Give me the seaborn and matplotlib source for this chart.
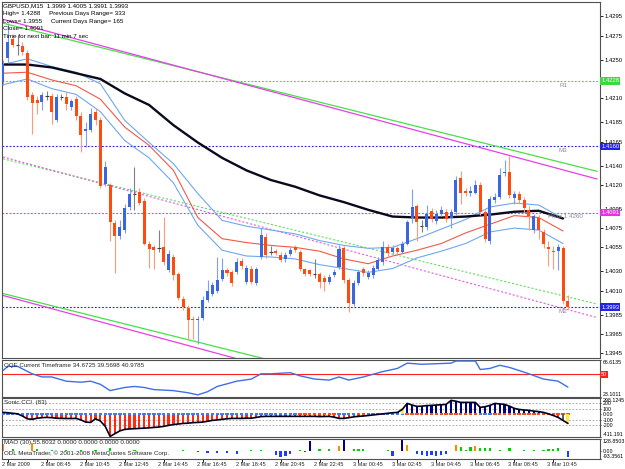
import matplotlib
matplotlib.use("Agg")
import matplotlib.pyplot as plt
import seaborn as sns
from matplotlib.transforms import blended_transform_factory as blend

sns.set_theme(style="white")
plt.rcParams['font.family'] = ['Liberation Sans', 'DejaVu Sans']

# ---------------- data ----------------
header_lines = ["GBPUSD,M15  1.3999 1.4005 1.3991 1.3993",
                "High= 1.4288     Previous Days Range= 333",
                "Lows= 1.3955     Current Days Range= 165",
                "Close= 1.4091",
                "Time for next bar: 11 min 7 sec"]

opens = [1.4227,1.4252,1.4272,1.4265,1.4264,1.4257,1.4213,1.4208,1.4206,1.4212,
         1.4212,1.4187,1.4211,1.4211,1.4201,1.4209,1.4191,1.4176,1.4177,1.4196,
         1.4187,1.4121,1.4120,1.4080,1.4067,1.4073,1.4097,1.4110,1.4113,1.4103,
         1.4058,1.4055,1.4054,1.4055,1.4031,1.4045,1.4027,1.4001,1.3992,1.3981,
         1.3979,1.3982,1.4000,1.4007,1.4010,1.4022,1.4031,1.4029,1.4029,1.4041,
         1.4019,1.4033,1.4018,1.4045,1.4066,1.4050,1.4051,1.4047,1.4043,1.4048,
         1.4055,1.4050,1.4032,1.4031,1.4027,1.4027,1.4023,1.4019,1.4026,1.4035,
         1.4054,1.4021,1.3996,1.4018,1.4032,1.4024,1.4026,1.4033,1.4040,1.4055,
         1.4050,1.4054,1.4050,1.4059,1.4085,1.4098,1.4077,1.4076,1.4093,1.4082,
         1.4090,1.4092,1.4086,1.4092,1.4127,1.4114,1.4111,1.4112,1.4120,1.4092,
         1.4062,1.4104,1.4107,1.4132,1.4133,1.4106,1.4110,1.4104,1.4094,1.4073,
         1.4086,1.4071,1.4055,1.4051,1.4051,1.4054,1.3999]
highs = [1.4250,1.4288,1.4277,1.4276,1.4268,1.4260,1.4216,1.4212,1.4216,1.4218,
         1.4215,1.4214,1.4214,1.4216,1.4209,1.4212,1.4196,1.4185,1.4200,1.4200,
         1.4190,1.4145,1.4122,1.4083,1.4083,1.4100,1.4117,1.4139,1.4117,1.4106,
         1.4062,1.4057,1.4073,1.4087,1.4052,1.4048,1.4029,1.4004,1.3995,1.3984,
         1.3984,1.4004,1.4021,1.4019,1.4045,1.4044,1.4034,1.4031,1.4044,1.4044,
         1.4037,1.4036,1.4035,1.4075,1.4070,1.4056,1.4053,1.4050,1.4050,1.4055,
         1.4057,1.4052,1.4034,1.4033,1.4043,1.4029,1.4026,1.4027,1.4033,1.4057,
         1.4056,1.4023,1.4021,1.4031,1.4035,1.4031,1.4037,1.4045,1.4062,1.4058,
         1.4057,1.4056,1.4062,1.4083,1.4116,1.4100,1.4083,1.4099,1.4096,1.4094,
         1.4098,1.4095,1.4095,1.4129,1.4134,1.4117,1.4119,1.4125,1.4123,1.4094,
         1.4108,1.4111,1.4137,1.4146,1.4150,1.4114,1.4114,1.4107,1.4098,1.4090,
         1.4089,1.4074,1.4062,1.4056,1.4058,1.4056,1.4005]
lows = [1.4224,1.4247,1.4263,1.4255,1.4255,1.4208,1.4173,1.4194,1.4198,1.4208,
        1.4183,1.4185,1.4208,1.4198,1.4198,1.4187,1.4154,1.4159,1.4175,1.4182,
        1.4117,1.4119,1.4062,1.4028,1.4064,1.4070,1.4094,1.4094,1.4099,1.4057,
        1.4034,1.4033,1.4050,1.4037,1.4029,1.4021,1.4000,1.3990,1.3960,1.3960,
        1.3955,1.3979,1.3998,1.4004,1.4008,1.4020,1.4025,1.4015,1.4027,1.4033,
        1.4017,1.4017,1.4016,1.4043,1.4044,1.4047,1.4047,1.4040,1.4040,1.4046,
        1.4050,1.4030,1.4025,1.4025,1.4023,1.4013,1.4010,1.4017,1.4024,1.4033,
        1.4018,1.3988,1.3994,1.4016,1.4025,1.4022,1.4023,1.4031,1.4037,1.4046,
        1.4048,1.4048,1.4048,1.4057,1.4080,1.4062,1.4071,1.4073,1.4081,1.4079,
        1.4088,1.4081,1.4075,1.4089,1.4100,1.4108,1.4108,1.4110,1.4089,1.4061,
        1.4058,1.4101,1.4105,1.4129,1.4106,1.4100,1.4101,1.4092,1.4073,1.4070,
        1.4064,1.4054,1.4036,1.4033,1.4031,1.3996,1.3991]
closes = [1.4246,1.4268,1.4265,1.4265,1.4258,1.4211,1.4205,1.4205,1.4213,1.4212,
          1.4196,1.4211,1.4211,1.4204,1.4207,1.4192,1.4172,1.4178,1.4194,1.4187,
          1.4119,1.4139,1.4081,1.4067,1.4076,1.4096,1.4110,1.4110,1.4101,1.4059,
          1.4053,1.4052,1.4054,1.4040,1.4048,1.4026,1.4002,1.3993,1.3979,1.3979,
          1.3981,1.4000,1.4010,1.4016,1.4021,1.4031,1.4028,1.4018,1.4040,1.4036,
          1.4034,1.4019,1.4033,1.4068,1.4047,1.4050,1.4049,1.4042,1.4047,1.4052,
          1.4052,1.4032,1.4027,1.4027,1.4027,1.4019,1.4019,1.4024,1.4029,1.4053,
          1.4021,1.3997,1.4018,1.4029,1.4028,1.4028,1.4034,1.4042,1.4055,1.4049,
          1.4054,1.4050,1.4059,1.4081,1.4097,1.4081,1.4077,1.4090,1.4084,1.4090,
          1.4094,1.4084,1.4092,1.4125,1.4112,1.4111,1.4114,1.4120,1.4092,1.4064,
          1.4105,1.4107,1.4130,1.4133,1.4109,1.4110,1.4104,1.4096,1.4088,1.4088,
          1.4073,1.4059,1.4053,1.4050,1.4055,1.3999,1.3993]

# moving averages / envelope read every 5 bars
ma_idx = [0, 5, 10, 15, 20, 25, 30, 35, 40, 45, 50, 55, 60, 65, 70, 75, 80, 85, 90, 95, 100, 105, 110, 115]
ma_slow = [1.4245,1.4245,1.4242,1.4236,1.4230,1.4215,1.4203,1.4182,1.4164,1.4148,1.4135,1.4125,
           1.4118,1.4109,1.4102,1.4094,1.4087,1.4086,1.4086,1.4087,1.4089,1.4092,1.4093,1.4085]
ma_mid = [1.4236,1.4237,1.4229,1.4223,1.4209,1.4180,1.4161,1.4135,1.4086,1.4064,1.4060,1.4057,
          1.4055,1.4051,1.4043,1.4038,1.4046,1.4052,1.4059,1.4070,1.4079,1.4088,1.4086,1.4072]
band_up = [1.4245,1.4251,1.4243,1.4237,1.4225,1.4187,1.4164,1.4142,1.4111,1.4083,1.4077,1.4073,
           1.4069,1.4062,1.4057,1.4054,1.4055,1.4064,1.4074,1.4084,1.4097,1.4101,1.4099,1.4085]
band_dn = [1.4224,1.4230,1.4220,1.4214,1.4196,1.4166,1.4148,1.4122,1.4078,1.4052,1.4046,1.4045,
           1.4043,1.4037,1.4033,1.4029,1.4033,1.4044,1.4051,1.4059,1.4071,1.4075,1.4073,1.4059]

# trend lines (bar index, price)
trend_x = [0, 122]
trend_green_top = [1.4288, 1.4134]
trend_magenta_top = [1.4292, 1.4126]
trend_green_bot = [1.4007, 1.3853]
trend_magenta_bot = [1.4005, 1.3838]
trend_green_mid = [1.4147, 1.3996]
trend_magenta_mid = [1.4149, 1.3982]

levels = [1.4228, 1.4160, 1.4091, 1.3993]
level_tags = ["R1", "M3", "Pivot 1.4260", "M2"]
level_colors = ["#3CD93C", "#2323E6", "#E632E6", "#2323E6"]

price_ticks = [1.4295, 1.4275, 1.4250, 1.4210, 1.4185, 1.4165, 1.4140, 1.4120, 1.4095,
               1.4075, 1.4055, 1.4030, 1.4010, 1.3985, 1.3965, 1.3945]

time_tick_idx = [1, 9, 17, 25, 33, 41, 49, 57, 65, 73, 81, 89, 97, 105, 113]
time_labels = ["2 Mar 2009", "2 Mar 08:45", "2 Mar 10:45", "2 Mar 12:45", "2 Mar 14:45",
               "2 Mar 16:45", "2 Mar 18:45", "2 Mar 20:45", "2 Mar 22:45", "3 Mar 00:45",
               "3 Mar 02:45", "3 Mar 04:45", "3 Mar 06:45", "3 Mar 08:45", "3 Mar 10:45"]

qqe_label = "QQE Current Timeframe 34.6725 39.5698 40.9785"
qqe_idx = [0,1,3,6,8,10,13,16,18,20,22,25,27,29,31,35,38,40,42,44,48,51,53,55,59,61,64,67,69,71,
           74,78,81,83,86,92,93,97,98,100,102,104,106,108,111,114,116]
qqe_val = [54.2,59.1,59.1,50.4,46.7,46.7,41.7,40.5,41.7,38.0,30.6,34.3,35.5,34.3,31.8,30.6,28.1,25.6,
           29.3,35.5,41.7,44.2,50.4,50.4,51.7,48.0,44.2,43.0,46.7,43.0,46.7,53.0,56.7,62.9,61.6,62.9,
           65.4,65.4,55.4,56.7,60.4,57.9,54.2,50.4,44.2,41.7,34.7]
qqe_range = (23.1011, 66.6135)
qqe_level = 50

cci_label = "Sonic CCI  (83)"
cci_vals = [36, 30, 20, 10, -30, -80, -90, -70, -60, -55, -60, -70, -73, -75, -75, -73,
            -100, -140, -146, -80, -120, -218, -400, -350, -300, -273, -265, -260,
            -255, -250, -245, -237, -230, -218, -200, -185, -175, -164, -160, -150,
            -146, -140, -125, -109, -100, -90, -80, -73, -73, -73, -70, -70,
            -55, -40, -36, -36, -36, -36, -36, -36, -36, -36, -36, -36,
            -36, -40, -38, -36, -50, -73, -73, -60, -45, -36, -30, -20,
            -10, 0, 10, 20, 30, 36, 91, 200, 170, 146, 150, 160,
            164, 170, 175, 182, 255, 240, 218, 218, 218, 218, 127, 140,
            164, 200, 190, 182, 150, 109, 90, 80, 73, 60, 50, 36,
            10, -20, -55, -110, -164]
cci_square_runs = [("b", 61), ("r", 8), ("b", 4), ("r", 2), ("b", 8), ("r", 15), ("b", 3), ("r", 16)]
cci_range = (-411.191, 298.1245)
cci_ticks = [298.1245, 200, 100, 0, -100, -200, -411.191]
cci_tick_labels = ["298.1245", "200", "100", "0.00", "-100", "-200", "-411.191"]
cci_guides = [200, 100, -100, -200]
cci_marks_idx = [82, 115, 116]
cci_marks_val = [110, -120, -150]
cci_marks_col = ["y", "k", "y"]

mao_label = "MAO (30) 55.8032 0.0000 0.0000 0.0000 0.0000"
copyright_text = "ODL MetaTrader, \u00a9 2001-2008 MetaQuotes Software Corp."
mao_idx = [0, 2, 6, 7, 10, 13, 16, 19, 22, 27, 29, 31, 33, 35, 37, 39, 40, 42, 44, 46, 48, 51, 53,
           56, 57, 58, 59, 61, 62, 63, 65, 67, 69, 70, 72, 73, 74, 79, 80, 82, 83, 85, 86, 87, 88,
           89, 90, 91, 93, 94, 95, 96, 97, 98, 99, 100, 102, 104, 107, 109, 111, 112, 113, 114, 116]
mao_val = [70, 15, 80, 20, 12, 10, 12, 10, 25, 10, -10, -10, -10, -8, 10, -8, -20, -25, -30, -25,
           -40, 10, 10, -50, -70, -60, -40, 10, -20, 110, 15, 15, 50, 120, 15, 20, 20, 10, -60, 120,
           60, -40, -50, -60, -45, -55, -50, -40, 60, 45, 10, 35, 55, 30, 30, 25, 10, 25, 10, 10, 10,
           20, 20, 25, -70]
mao_col = ["o", "g", "o", "g", "g", "g", "g", "g", "g", "g", "b", "b", "b", "b", "g", "b", "b", "b",
           "b", "b", "b", "g", "g", "b", "b", "b", "b", "g", "b", "n", "g", "g", "o", "n", "g", "g",
           "g", "g", "b", "n", "o", "b", "b", "b", "b", "b", "b", "b", "o", "g", "g", "g", "o", "g",
           "g", "g", "g", "g", "g", "g", "g", "g", "g", "g", "b"]
mao_range = (-93.3561, 128.8503)

# ---------------- drawing ----------------
W, H = 625, 469
fig = plt.figure(figsize=(W / 100, H / 100), dpi=100)
fig.patch.set_facecolor("white")
FS = 4.5      # in-chart texts
FSA = 4.2     # price axis labels
FSS = 3.8     # sub-window axis labels
BAR_PX = 4.87
XL = (-0.2, -0.2 + 598 / BAR_PX)


def panel(top, bottom, size, length):
    a = fig.add_axes([2 / W, 1 - bottom / H, 598 / W, (bottom - top) / H])
    a.set_facecolor("white")
    a.set_xlim(*XL)
    a.set_xticks([])
    for s in a.spines.values():
        s.set_color("#505050")
        s.set_linewidth(0.8)
    a.yaxis.tick_right()
    a.tick_params(axis="y", which="both", direction="out", length=length, width=0.6,
                  pad=0.8, labelsize=size, colors="black", right=True, left=False)
    a.grid(False)
    return a


ax = panel(2, 358, FSA, 2.2)
ax2 = panel(360, 397, FSS, 1.0)
ax3 = panel(398, 437, FSS, 1.0)
ax4 = panel(439, 459, FSS, 1.0)

# price panel
ax.set_ylim(1.3940, 1.4310)
for lv, col in zip(levels, level_colors):
    ax.axhline(lv, color=col, lw=0.8, ls=(0, (1.6, 1.6)), zorder=1)

ax.plot(trend_x, trend_green_top, color="#47E047", lw=0.9, zorder=2)
ax.plot(trend_x, trend_magenta_top, color="#E640E6", lw=0.9, zorder=2)
ax.plot(trend_x, trend_green_bot, color="#47E047", lw=0.9, zorder=2)
ax.plot(trend_x, trend_magenta_bot, color="#E640E6", lw=0.9, zorder=2)
ax.plot(trend_x, trend_green_mid, color="#55E055", lw=0.8, ls=(0, (1.8, 1.8)), zorder=2)
ax.plot(trend_x, trend_magenta_mid, color="#E655E6", lw=0.8, ls=(0, (1.8, 1.8)), zorder=2)

sns.lineplot(x=ma_idx, y=band_up, ax=ax, color="#6FA8F0", linewidth=0.8, zorder=3)
sns.lineplot(x=ma_idx, y=band_dn, ax=ax, color="#6FA8F0", linewidth=0.8, zorder=3)
sns.lineplot(x=ma_idx, y=ma_mid, ax=ax, color="#F05A4A", linewidth=0.8, zorder=3)
sns.lineplot(x=ma_idx, y=ma_slow, ax=ax, color="#0A0A1E", linewidth=1.7, zorder=3)

bull, bear, doji = "#3A66E0", "#FF4A10", "#808080"
for i, (o, h, l, c) in enumerate(zip(opens, highs, lows, closes)):
    if c > o:
        body, wick = bull, "#7FA0F0"
    elif c < o:
        body, wick = bear, "#FF9A78"
    else:
        body, wick = doji, doji
    ax.vlines(i, l, h, color=wick, lw=0.8, zorder=4)
    if c != o:
        ax.bar(i, abs(c - o), bottom=min(o, c), width=0.62, color=body, linewidth=0, zorder=5)
    else:
        ax.hlines(c, i - 0.35, i + 0.35, color="#404040", lw=0.8, zorder=5)

ax.set_yticks(price_ticks)
ax.set_yticklabels([f"{t:.4f}" for t in price_ticks])
ax.set_ylabel("")
ax.set_xlabel("")
tr = blend(ax.transAxes, ax.transData)
for lv, col in zip(levels, level_colors):
    ax.text(1.002, lv, f"{lv:.4f}", transform=tr, fontsize=FSA, color="white", ha="left",
            va="center", zorder=10, clip_on=False,
            bbox=dict(boxstyle="square,pad=0.2", fc=col, ec="none"))
tag_x = [115, 115, 112, 115]
for lv, tag, tx in zip(levels, level_tags, tag_x):
    ax.text(tx, lv - 0.00018, tag, fontsize=FS, color="#8C8C8C",
            ha="left" if tag.startswith("P") else "center", va="top", zorder=6)

for k, line in enumerate(header_lines):
    fig.text(3 / W, 1 - (6 + 7.6 * k) / H, line, fontsize=FS, color="black", va="center", ha="left")

# QQE panel
ax2.set_ylim(*qqe_range)
ax2.axhline(qqe_level, color="#FF2020", lw=0.8, zorder=1)
sns.lineplot(x=qqe_idx, y=qqe_val, ax=ax2, color="#3F6FE8", linewidth=1.0, zorder=3)
ax2.set_yticks([qqe_range[1], qqe_range[0]])
ax2.set_yticklabels([f"{qqe_range[1]:.4f}", f"{qqe_range[0]:.4f}"])
lbls = ax2.get_yticklabels()
lbls[0].set_va("top")
lbls[1].set_va("bottom")
ax2.set_ylabel("")
ax2.text(1.002, qqe_level, "50", transform=blend(ax2.transAxes, ax2.transData), fontsize=FSS,
         color="white", ha="left", va="center", clip_on=False,
         bbox=dict(boxstyle="square,pad=0.2", fc="#FF2020", ec="none"))
ax2.text(0.004, 0.93, qqe_label, transform=ax2.transAxes, fontsize=FS, va="top", ha="left")

# CCI panel
ax3.set_ylim(*cci_range)
for g in cci_guides:
    ax3.axhline(g, color="#A0A0A0", lw=0.6, ls=(0, (2, 2)), zorder=1)
xi = list(range(len(cci_vals)))
ax3.bar(xi, cci_vals, width=0.45, color=["#FF2A10" if v < 0 else "#000080" for v in cci_vals],
        linewidth=0, zorder=2)
sq_cols = []
for col, n in cci_square_runs:
    sq_cols += [("#4A78E8" if col == "b" else "#FF4A10")] * n
ax3.bar(xi, 40, bottom=-10, width=0.7, color=sq_cols, linewidth=0, zorder=3)
ax3.bar(cci_marks_idx, cci_marks_val, width=0.6,
        color=["#FFE840" if c == "y" else "#606060" for c in cci_marks_col], linewidth=0, zorder=4)
sns.lineplot(x=xi, y=cci_vals, ax=ax3, color="#000020", linewidth=1.2, zorder=5)
ax3.set_yticks(cci_ticks)
ax3.set_yticklabels(cci_tick_labels)
l3 = ax3.get_yticklabels()
l3[0].set_va("top")
l3[-1].set_va("bottom")
ax3.set_ylabel("")
ax3.text(0.004, 0.95, cci_label, transform=ax3.transAxes, fontsize=FS, va="top", ha="left")

# bottom panel
ax4.set_ylim(*mao_range)
cmap = {"o": "#FF8C00", "g": "#00D000", "b": "#1E3CFF", "n": "#000080"}
ax4.bar(mao_idx, mao_val, width=0.45, color=[cmap[c] for c in mao_col], linewidth=0, zorder=2)
ax4.set_yticks([mao_range[1], 0, mao_range[0]])
ax4.set_yticklabels([f"{mao_range[1]:.4f}", "0.00", f"{mao_range[0]:.4f}"])
l4 = ax4.get_yticklabels()
l4[0].set_va("top")
l4[-1].set_va("bottom")
ax4.set_ylabel("")
ax4.text(0.004, 0.97, mao_label, transform=ax4.transAxes, fontsize=FS, va="top", ha="left")
ax4.text(0.004, 0.45, copyright_text, transform=ax4.transAxes, fontsize=FS, va="top", ha="left")

# time axis
ttr = blend(ax4.transData, fig.transFigure)
for ti, lab in zip(time_tick_idx, time_labels):
    ax4.plot([ti, ti], [1 - 459 / H, 1 - 461.5 / H], transform=ttr, color="black", lw=0.6, clip_on=False)
    ax4.text(ti - 1.2, 1 - 464.5 / H, lab, transform=ttr, fontsize=4.0, ha="left", va="center")

fig.savefig("out.png", dpi=100, facecolor="white")
